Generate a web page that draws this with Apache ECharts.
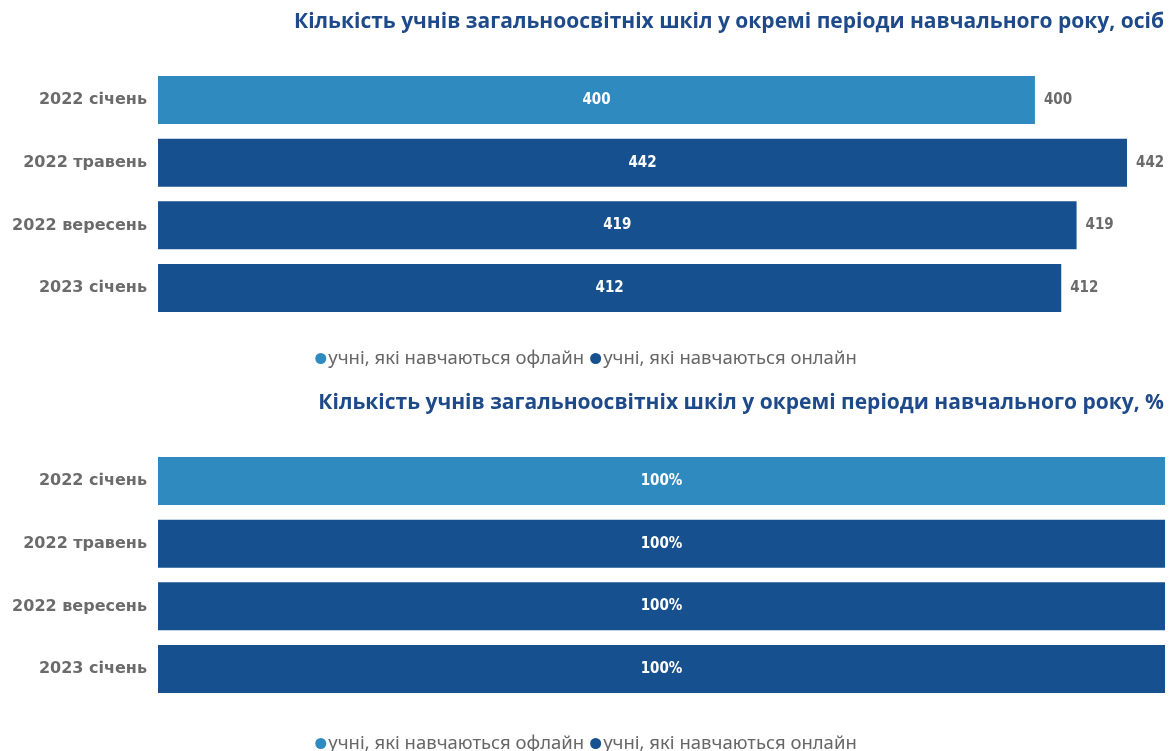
<!DOCTYPE html>
<html>
<head>
<meta charset="utf-8">
<script src="https://cdn.jsdelivr.net/npm/echarts@6/dist/echarts.min.js"></script>
<style>
  html, body { margin: 0; padding: 0; background: #fff; }
  #chart { width: 1172px; height: 751px; }
</style>
</head>
<body>
<div id="chart"></div>
<script>
const categories = ['2022 січень', '2022 травень', '2022 вересень', '2023 січень'];
const seriesNames = ['учні, які навчаються офлайн', 'учні, які навчаються онлайн'];
// осіб
const offlineCount = [400, 0, 0, 0];
const onlineCount = [0, 442, 419, 412];
// %
const offlinePct = [100, 0, 0, 0];
const onlinePct = [0, 100, 100, 100];

const titleTop = 'Кількість учнів загальноосвітніх шкіл у окремі періоди навчального року, осіб';
const titleBottom = 'Кількість учнів загальноосвітніх шкіл у окремі періоди навчального року, %';

const totals = offlineCount.map((v, i) => v + onlineCount[i]);

const colLight = '#2f8bbf';
const colDark = '#16508f';
const numFont = "'DejaVu Sans Condensed', sans-serif";

const myChart = echarts.init(document.getElementById('chart'));

function insideLabel(pct) {
    return {
        show: true,
        position: 'inside',
        color: '#fff',
        fontWeight: 'bold',
        fontSize: 15,
        fontFamily: numFont,
        formatter: p => p.value ? (p.value + (pct ? '%' : '')) : ''
    };
}

const titleStyle = { color: '#1f4a8a', fontSize: 21, fontWeight: 'bold', fontFamily: 'Open Sans' };
const legendStyle = { color: '#666', fontSize: 18.5, fontFamily: 'Noto Sans', padding: [0, 0, 0, -3] };

const option = {
    animation: false,
    title: [
        { text: titleTop, right: 3, top: 7, textStyle: titleStyle },
        { text: titleBottom, right: 3, top: 388, textStyle: titleStyle }
    ],
    legend: [
        {
            data: seriesNames, top: 344, left: 'center', icon: 'circle',
            itemWidth: 11, itemHeight: 11, itemGap: 6, textStyle: legendStyle
        },
        {
            data: seriesNames, top: 729, left: 'center', icon: 'circle',
            itemWidth: 11, itemHeight: 11, itemGap: 6, textStyle: legendStyle
        }
    ],
    grid: [
        { left: 158, right: 45, top: 68.6, height: 250.8 },
        { left: 158, right: 7, top: 449.6, height: 250.8 }
    ],
    xAxis: [
        { type: 'value', gridIndex: 0, min: 0, max: 'dataMax', show: false },
        { type: 'value', gridIndex: 1, min: 0, max: 100, show: false }
    ],
    yAxis: [0, 1].map(g => ({
        type: 'category', gridIndex: g, data: categories, inverse: true,
        axisLine: { show: false }, axisTick: { show: false }, splitLine: { show: false },
        axisLabel: { color: '#6b6b6b', fontSize: 16, fontWeight: 'bold', fontFamily: 'DejaVu Sans', margin: 11 }
    })),
    series: [
        {
            name: seriesNames[0], type: 'bar', stack: 'a', xAxisIndex: 0, yAxisIndex: 0,
            data: offlineCount, barWidth: 48, itemStyle: { color: colLight },
            label: insideLabel(false)
        },
        {
            name: seriesNames[1], type: 'bar', stack: 'a', xAxisIndex: 0, yAxisIndex: 0,
            data: onlineCount, barWidth: 48, itemStyle: { color: colDark },
            label: insideLabel(false)
        },
        {
            name: 'total', type: 'bar', xAxisIndex: 0, yAxisIndex: 0,
            data: totals, barWidth: 48, barGap: '-100%', z: 0,
            itemStyle: { color: 'rgba(0,0,0,0)' },
            label: {
                show: true, position: 'right', distance: 9, color: '#6b6b6b',
                fontWeight: 'bold', fontSize: 15, fontFamily: numFont
            },
            tooltip: { show: false }
        },
        {
            name: seriesNames[0], type: 'bar', stack: 'b', xAxisIndex: 1, yAxisIndex: 1,
            data: offlinePct, barWidth: 48, itemStyle: { color: colLight },
            label: insideLabel(true)
        },
        {
            name: seriesNames[1], type: 'bar', stack: 'b', xAxisIndex: 1, yAxisIndex: 1,
            data: onlinePct, barWidth: 48, itemStyle: { color: colDark },
            label: insideLabel(true)
        }
    ]
};
myChart.setOption(option);
</script>
</body>
</html>
